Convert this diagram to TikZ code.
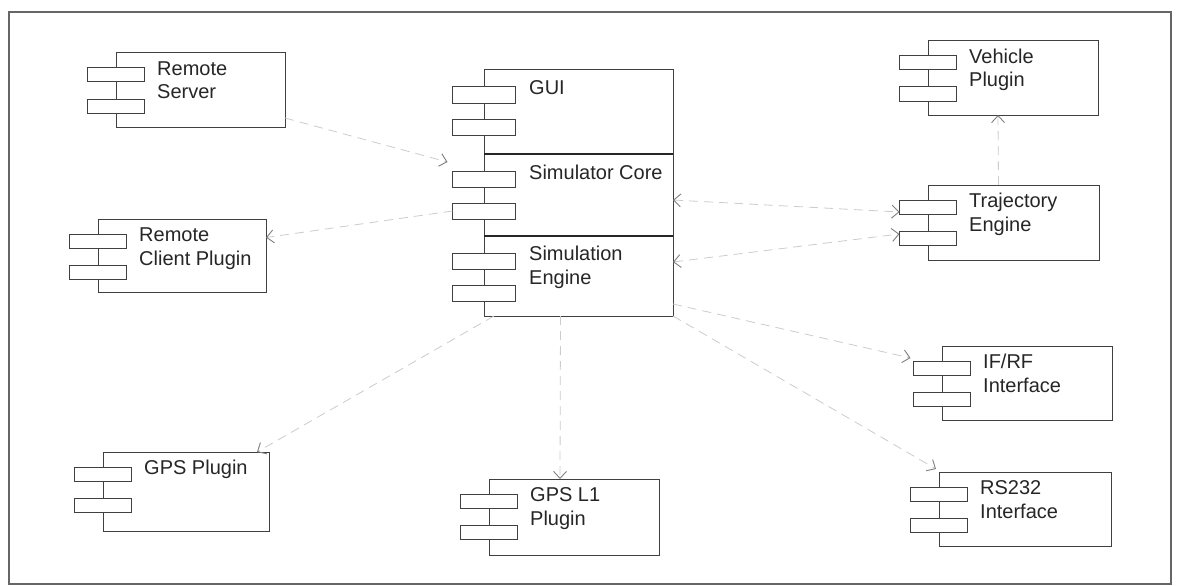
\documentclass[tikz,border=0pt]{standalone}
\usepackage{fontspec}
\setmainfont{Liberation Sans}
\usetikzlibrary{arrows.meta}
\tikzset{
  compbox/.style={draw=black!75, line width=1pt, fill=white, rectangle, inner sep=0pt, outer sep=0pt, anchor=north west},
  portbox/.style={draw=black!75, line width=1pt, fill=white, rectangle, inner sep=0pt, outer sep=0pt, minimum width=57pt, minimum height=14pt},
  bigport/.style={portbox, minimum width=63pt, minimum height=16pt},
  comptext/.style={anchor=north west, inner sep=0pt, align=left, text=black!85, font=\fontsize{20}{24}\selectfont},
  dep/.style={draw=black!20, line width=0.8pt, dash pattern=on 9pt off 6pt, -{Straight Barb[length=7pt,width=13pt,color=black!50,line width=0.9pt]}},
  depboth/.style={dep, {Straight Barb[length=7pt,width=13pt,color=black!50,line width=0.9pt]}-{Straight Barb[length=7pt,width=13pt,color=black!50,line width=0.9pt]}},
  divider/.style={draw=black!85, line width=1.6pt}
}
\newcommand{\umlcomp}[6]{%
  \node[compbox, minimum width=#4pt, minimum height=#5pt] (#1) at (#2,#3) {};
  \node[portbox] (#1-p1) at ([yshift=-22pt]#1.north west) {};
  \node[portbox] (#1-p2) at ([yshift=-53pt]#1.north west) {};
  \node[comptext] (#1-t) at ([xshift=41pt,yshift=-5pt]#1.north west) {\strut #6};
}
\begin{document}
\begin{tikzpicture}[x=1pt,y=-1pt]
\useasboundingbox (0,0) rectangle (1181,586);
\fill[white] (0,0) rectangle (1181,586);
\draw[black!60, line width=1.5pt] (9,12) rectangle (1171,584);

% central component stack
\node[compbox, minimum width=189pt, minimum height=84pt] (gui) at (484,70) {};
\node[compbox, minimum width=189pt, minimum height=82pt] (core) at (484,154) {};
\node[compbox, minimum width=189pt, minimum height=80pt] (engine) at (484,236) {};
\draw[divider] (core.north west) -- (core.north east);
\draw[divider] (engine.north west) -- (engine.north east);
\foreach \n in {gui,core,engine}{
  \node[bigport] (\n-p1) at ([yshift=-25pt]\n.north west) {};
  \node[bigport] (\n-p2) at ([yshift=-57pt]\n.north west) {};
}
\node[comptext] (gui-t) at ([xshift=45pt,yshift=-8pt]gui.north west) {\strut GUI};
\node[comptext] (core-t) at ([xshift=45pt,yshift=-8pt]core.north west) {\strut Simulator Core};
\node[comptext] (engine-t) at ([xshift=45pt,yshift=-7pt]engine.north west) {\strut Simulation\\Engine};

% other components
\umlcomp{rs}{116}{53}{169}{74}{Remote\\Server}
\umlcomp{rc}{98}{219}{168}{73}{Remote\\Client Plugin}
\umlcomp{vp}{928}{41}{170}{74}{Vehicle\\Plugin}
\umlcomp{te}{928}{185}{171}{75}{Trajectory\\Engine}
\umlcomp{ifrf}{942}{346}{170}{74}{IF/RF\\Interface}
\umlcomp{rstwo}{939}{472}{172}{74}{RS232\\Interface}
\umlcomp{gps}{103}{452}{166}{79}{GPS Plugin}
\umlcomp{gpsl}{489}{479}{170}{76}{GPS L1\\Plugin}

% dependencies
\draw[dep] ([yshift=9pt]rs.south east) -- ([xshift=-5pt,yshift=9pt]core-p1.north west);
\draw[dep] (core-p2.west) -- ([yshift=18pt]rc.east);
\draw[depboth] ([yshift=-5pt]core.east) -- ([yshift=-5pt]te-p1.west);
\draw[depboth] ([yshift=14pt]engine.east) -- ([yshift=4pt]te-p2.west);
\draw[dep] ([yshift=12pt]engine.south east) -- ([xshift=-3pt,yshift=3pt]ifrf-p1.north west);
\draw[dep] (engine.south east) -- ([xshift=-3pt,yshift=3pt]rstwo.north west);
\draw[dep] ([xshift=-18pt]engine.south) -- ([xshift=-14pt]gpsl.north);
\draw[dep] ([xshift=10pt]engine.south west) -- ([xshift=-12pt]gps.north east);
\draw[dep] ([xshift=-15pt]te.north) -- ([xshift=-15pt]vp.south);
\end{tikzpicture}
\end{document}
